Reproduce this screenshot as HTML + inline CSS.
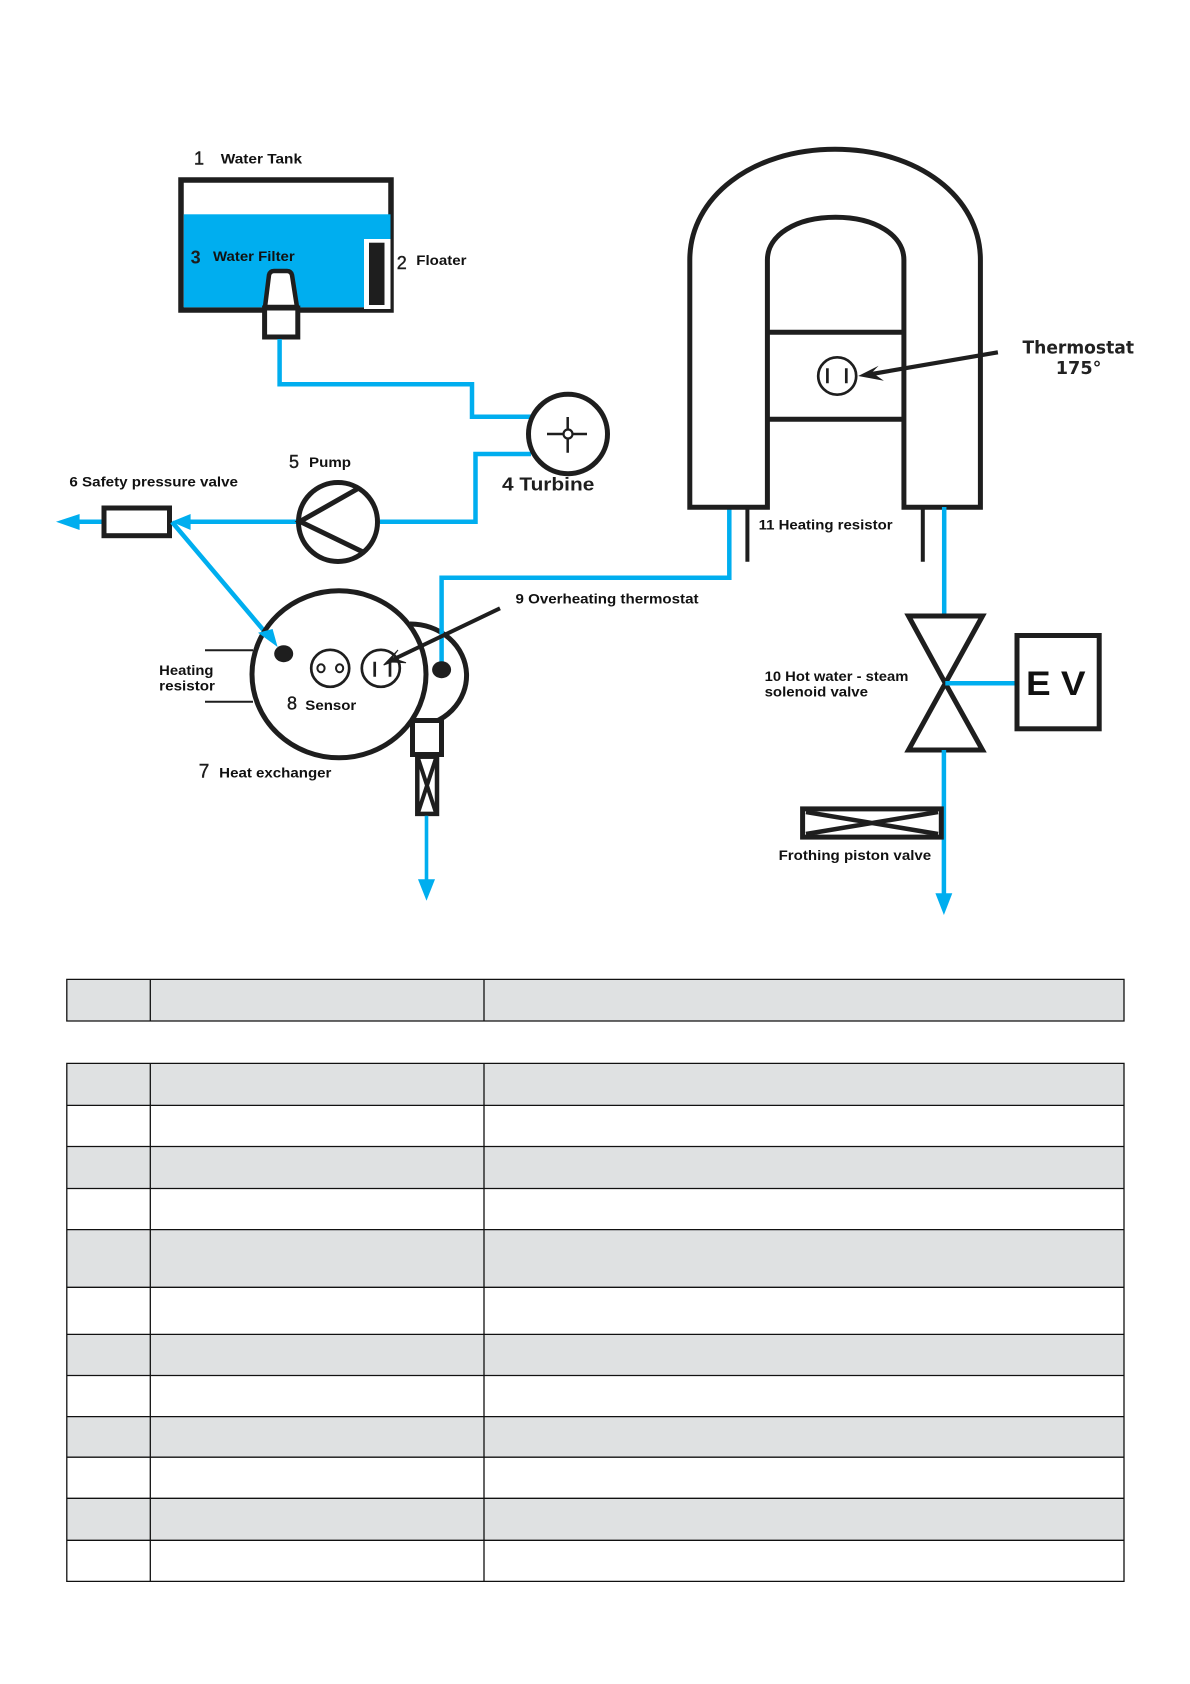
<!DOCTYPE html>
<html>
<head>
<meta charset="utf-8">
<style>
html,body{margin:0;padding:0;background:#fff;width:1190px;height:1684px;overflow:hidden}
svg{display:block}
text{font-family:"Liberation Sans",sans-serif;font-weight:bold;fill:#111}
.n{font-weight:normal;fill:#1c1c1c;stroke:#1c1c1c;stroke-width:.4}
.d{font-family:"DejaVu Sans",sans-serif}
.b{fill:none;stroke:#00aeef;stroke-width:4.5}
.k{fill:none;stroke:#1e1e1e;stroke-width:5}
.w{fill:#fff;stroke:#1e1e1e;stroke-width:5}
.t{fill:none;stroke:#1e1e1e;stroke-width:2.7}
.g{fill:#dfe1e2}
.l{stroke:#111;stroke-width:1.3;fill:none}
</style>
</head>
<body>
<svg width="1190" height="1684" viewBox="0 0 1190 1684" xmlns="http://www.w3.org/2000/svg">
<!-- tank -->
<rect x="181" y="180" width="210" height="130" fill="#fff" stroke="#1e1e1e" stroke-width="5.5"/>
<rect x="183.8" y="214.3" width="206.7" height="93" fill="#00aeef"/>
<rect x="364" y="239" width="26.5" height="70" fill="#fff"/>
<rect x="369" y="242.7" width="15.5" height="62.3" fill="#1e1e1e"/>
<path d="M265 307 L269 275 Q270 271 274 271 L287 271 Q291 271 292 275 L297 307 Z" fill="#fff" stroke="#1e1e1e" stroke-width="4.5"/>
<rect x="264.6" y="308" width="33.2" height="29" class="w"/>
<!-- pipes top -->
<path class="b" d="M279.6 339 V384.3 H472 V416.7 H531"/>
<path class="b" d="M531 454 H475.5 V521.7 H380"/>
<!-- turbine -->
<ellipse cx="568" cy="434" rx="39.5" ry="39.7" class="w"/>
<path d="M547 434 H587 M567.7 417 V452.7" fill="none" stroke="#1e1e1e" stroke-width="2.5"/>
<circle cx="568" cy="434" r="4.5" fill="#fff" stroke="#1e1e1e" stroke-width="2.2"/>
<!-- pump -->
<path class="b" d="M300 521.7 H190"/>
<ellipse cx="338" cy="522" rx="39.5" ry="39.5" class="k"/>
<path class="k" d="M359 488 L300 521.5 L363 552"/>
<polygon points="171.5,521.7 190.6,514 190.6,530" fill="#00aeef"/>
<path class="b" d="M102 521.7 H78"/>
<polygon points="56,521.7 79.6,514 79.6,530" fill="#00aeef"/>
<rect x="104" y="508" width="65.5" height="27.7" class="w"/>
<!-- diagonal -->
<path class="b" d="M172 522 L265 632"/>
<!-- heat exchanger -->
<path class="k" d="M410 624 A56 51.55 0 0 1 414 727"/>
<ellipse cx="339" cy="674.3" rx="87" ry="83.5" class="k"/>
<polygon points="277.6,647 258,632.7 272.6,629" fill="#00aeef"/>
<ellipse cx="283.7" cy="653.7" rx="9.5" ry="8.5" fill="#1e1e1e"/>
<path class="b" d="M441.6 665 V577.7 H729.3 V508"/>
<ellipse cx="441.6" cy="669.7" rx="9.5" ry="8.5" fill="#1e1e1e"/>
<path class="t" d="M205 650.3 H253 M205 701.7 H253" style="stroke-width:2"/>
<ellipse cx="330.2" cy="668.3" rx="19" ry="18.5" class="t"/>
<ellipse cx="321" cy="668.3" rx="3.6" ry="4" class="t" style="stroke-width:2"/>
<ellipse cx="339.6" cy="668.3" rx="3.6" ry="4" class="t" style="stroke-width:2"/>
<ellipse cx="380.8" cy="668.3" rx="19" ry="18.5" class="t"/>
<path class="t" d="M374.7 661.7 V676.7 M390 661.7 V676.7"/>
<path d="M500 608.3 L390 661" fill="none" stroke="#1e1e1e" stroke-width="4"/>
<polygon points="383.7,665 398,650 392,658 406,662.7 392,662" fill="#1e1e1e" stroke="#1e1e1e" stroke-width="1"/>
<rect x="412.5" y="720.5" width="29" height="34" class="w"/>
<path d="M412 722 Q430 720 443 717 V722 H412 Z" fill="#1e1e1e"/>
<rect x="417.3" y="756.7" width="19.7" height="57.2" fill="#fff" stroke="#1e1e1e" stroke-width="4.5"/>
<path d="M418 758 L436 813 M436 758 L418 813" stroke="#1e1e1e" stroke-width="4" fill="none"/>
<path class="b" d="M426.5 815.7 V880" style="stroke-width:3.6"/>
<polygon points="418,879.3 435,879.3 426.5,900.7" fill="#00aeef"/>
<!-- U heater -->
<path class="k" d="M767.4 507.3 H689.8 V260 C689.8 196.9 752.3 149.3 835.1 149.3 C917.9 149.3 980.4 196.9 980.4 260 V507.3 H903.9 V260 C903.9 235 875 217.3 835.6 217.3 C796 217.3 767.4 235 767.4 260 Z"/>
<path fill="#fff" stroke="none" d="M770 510 V500 H901.4 V510 Z"/>
<path class="k" d="M767.4 332.3 H903.9 M767.4 419.3 H903.9"/>
<ellipse cx="837.2" cy="376" rx="19" ry="18.7" class="t"/>
<path class="t" d="M827.4 368.3 V383.3 M846.3 368.3 V383.3"/>
<path d="M997.9 352.3 L866 375" fill="none" stroke="#1e1e1e" stroke-width="4.2"/>
<polygon points="858.2,376 878.6,365.7 872,372.5 883.9,380.7" fill="#1e1e1e"/>
<path d="M747.4 507 V561.7 M922.8 507 V561.7" fill="none" stroke="#1e1e1e" stroke-width="4"/>
<path class="b" d="M944.2 507 V614"/>
<!-- solenoid valve -->
<path class="k" d="M945.3 683.3 L908.5 616 H982.5 Z"/>
<path class="k" d="M945.3 683.3 L908.5 750 H982.5 Z"/>
<path class="b" d="M945.3 683.3 H1015"/>
<rect x="1017" y="635.5" width="82.2" height="93.3" class="w"/>
<text x="1026" y="695" font-size="34" textLength="59.6" lengthAdjust="spacingAndGlyphs">E V</text>
<path class="b" d="M943.9 750 V894"/>
<polygon points="935.4,893.3 952.3,893.3 943.9,915" fill="#00aeef"/>
<rect x="802.6" y="808.9" width="138.7" height="28.2" class="w"/>
<path d="M806 812 L938 834 M938 812 L806 834" stroke="#1e1e1e" stroke-width="4.5" fill="none"/>
<!-- labels -->
<text class="n" x="194" y="164.3" font-size="18">1</text>
<text x="220.8" y="163.3" font-size="13.5" textLength="81.2" lengthAdjust="spacingAndGlyphs">Water Tank</text>
<text x="190.6" y="263.3" font-size="18" style="fill:#1c1c1c">3</text>
<text x="213" y="261" font-size="13.5" textLength="81.7" lengthAdjust="spacingAndGlyphs">Water Filter</text>
<text class="n" x="396.7" y="269" font-size="18">2</text>
<text x="416.3" y="265" font-size="13.5" textLength="50.2" lengthAdjust="spacingAndGlyphs">Floater</text>
<text class="n" x="289" y="468" font-size="18">5</text>
<text x="309" y="467" font-size="13.5" textLength="42" lengthAdjust="spacingAndGlyphs">Pump</text>
<text x="69.4" y="486.7" font-size="13.5" textLength="168.6" lengthAdjust="spacingAndGlyphs">6 Safety pressure valve</text>
<text x="502" y="490.7" font-size="18" textLength="92.3" lengthAdjust="spacingAndGlyphs" style="fill:#1e1e1e">4 Turbine</text>
<text x="159.2" y="675" font-size="13.5" textLength="54.3" lengthAdjust="spacingAndGlyphs">Heating</text>
<text x="159.2" y="690.3" font-size="13.5" textLength="55.8" lengthAdjust="spacingAndGlyphs">resistor</text>
<text class="n" x="287" y="709.3" font-size="18">8</text>
<text x="305.3" y="710" font-size="13.5" textLength="51" lengthAdjust="spacingAndGlyphs">Sensor</text>
<text class="n" x="198.8" y="777.7" font-size="19">7</text>
<text x="219.2" y="777.7" font-size="13.5" textLength="112.2" lengthAdjust="spacingAndGlyphs">Heat exchanger</text>
<text x="515.5" y="603.3" font-size="13.5" textLength="183" lengthAdjust="spacingAndGlyphs">9 Overheating thermostat</text>
<text class="d" x="1022.5" y="353.3" font-size="18" textLength="111.5" lengthAdjust="spacingAndGlyphs" style="fill:#222">Thermostat</text>
<text class="d" x="1055.8" y="374" font-size="18" textLength="45.6" lengthAdjust="spacingAndGlyphs" style="fill:#222">175°</text>
<text x="758.6" y="529.3" font-size="13.5" textLength="134" lengthAdjust="spacingAndGlyphs">11 Heating resistor</text>
<text x="764.6" y="681" font-size="13.5" textLength="143.8" lengthAdjust="spacingAndGlyphs">10 Hot water - steam</text>
<text x="764.6" y="696.7" font-size="13.5" textLength="103.4" lengthAdjust="spacingAndGlyphs">solenoid valve</text>
<text x="778.6" y="860" font-size="13.5" textLength="152.6" lengthAdjust="spacingAndGlyphs">Frothing piston valve</text>
<!-- tables -->
<rect class="g" x="66.8" y="979.4" width="1057.2" height="41.6"/>
<rect class="g" x="66.8" y="1063.4" width="1057.2" height="42"/>
<rect class="g" x="66.8" y="1146.5" width="1057.2" height="42"/>
<rect class="g" x="66.8" y="1229.6" width="1057.2" height="57.7"/>
<rect class="g" x="66.8" y="1334.4" width="1057.2" height="41.1"/>
<rect class="g" x="66.8" y="1416.6" width="1057.2" height="40.6"/>
<rect class="g" x="66.8" y="1498.3" width="1057.2" height="42"/>
<path class="l" d="M66.8 979.4 H1124 V1021 H66.8 Z M150.3 979.4 V1021 M484 979.4 V1021"/>
<path class="l" d="M66.8 1063.4 H1124 V1581.4 H66.8 Z M150.3 1063.4 V1581.4 M484 1063.4 V1581.4"/>
<path class="l" d="M66.8 1105.4 H1124 M66.8 1146.5 H1124 M66.8 1188.5 H1124 M66.8 1229.6 H1124 M66.8 1287.3 H1124 M66.8 1334.4 H1124 M66.8 1375.5 H1124 M66.8 1416.6 H1124 M66.8 1457.2 H1124 M66.8 1498.3 H1124 M66.8 1540.3 H1124"/>
</svg>
</body>
</html>
